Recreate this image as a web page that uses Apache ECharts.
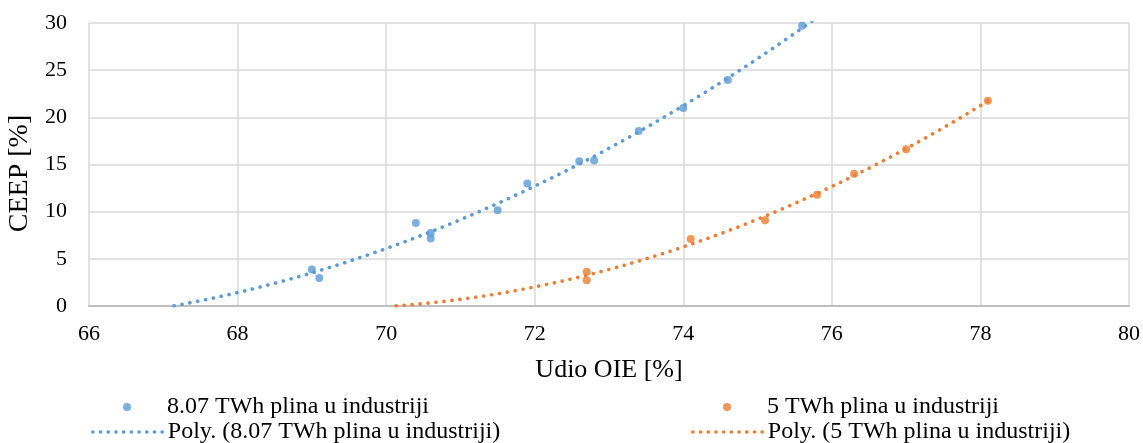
<!DOCTYPE html>
<html>
<head>
<meta charset="utf-8">
<script src="https://cdn.jsdelivr.net/npm/echarts@6/dist/echarts.min.js"></script>
<style>
html,body{margin:0;padding:0;background:#fff;}
#chart{width:1143px;height:443px;}
</style>
</head>
<body>
<div id="chart"></div>
<script>
// ---- data ----
const seriesNames = ['8.07 TWh plina u industriji', '5 TWh plina u industriji'];
const trendNames = ['Poly. (8.07 TWh plina u industriji)', 'Poly. (5 TWh plina u industriji)'];
const blueX = [69.0, 69.1, 70.4, 70.6, 70.6, 71.5, 71.9, 72.6, 72.8, 73.4, 74.0, 74.6, 75.6];
const blueY = [3.87, 2.98, 8.81, 7.75, 7.16, 10.15, 12.98, 15.34, 15.42, 18.55, 21.0, 23.97, 29.72];
const orangeX = [72.7, 72.7, 74.1, 75.1, 75.8, 76.3, 77.0, 78.1];
const orangeY = [3.62, 2.74, 7.09, 9.08, 11.8, 14.03, 16.62, 21.77];
const xTicks = [66, 68, 70, 72, 74, 76, 78, 80];
const yTicks = [0, 5, 10, 15, 20, 25, 30];
const xTitle = 'Udio OIE [%]';
const yTitle = 'CEEP [%]';

const BLUE = '#5B9BD5', ORANGE = '#ED7D31';
const FONT = '"Liberation Serif", "Times New Roman", serif';

// least-squares quadratic fit (Excel polynomial trendline, order 2)
function quadFit(xs, ys) {
  let S = [0,0,0,0,0], T = [0,0,0];
  for (let i = 0; i < xs.length; i++) {
    const x = xs[i], y = ys[i];
    let p = 1;
    for (let k = 0; k < 5; k++) { S[k] += p; if (k < 3) T[k] += p * y; p *= x; }
  }
  const A = [[S[0],S[1],S[2],T[0]],[S[1],S[2],S[3],T[1]],[S[2],S[3],S[4],T[2]]];
  for (let c = 0; c < 3; c++) {
    let piv = c;
    for (let r = c+1; r < 3; r++) if (Math.abs(A[r][c]) > Math.abs(A[piv][c])) piv = r;
    [A[c], A[piv]] = [A[piv], A[c]];
    for (let r = 0; r < 3; r++) {
      if (r === c) continue;
      const f = A[r][c] / A[c][c];
      for (let k = c; k < 4; k++) A[r][k] -= f * A[c][k];
    }
  }
  return [A[0][3]/A[0][0], A[1][3]/A[1][1], A[2][3]/A[2][2]]; // c0, c1, c2
}
function trendPoints(xs, ys, xEnd) {
  const [c0, c1, c2] = quadFit(xs, ys);
  const vx = c2 > 0 ? -c1 / (2*c2) : -Infinity;
  const pts = [];
  const xStart = Math.max(xTicks[0], vx);
  const n = 400;
  for (let i = 0; i <= n; i++) {
    const x = xStart + (xEnd - xStart) * i / n;
    const y = c0 + c1*x + c2*x*x;
    if (y < 0 && pts.length === 0) continue;
    pts.push([x, y]);
  }
  return pts;
}
const zip = (a, b) => a.map((v, i) => [v, b[i]]);

const chart = echarts.init(document.getElementById('chart'), null, {renderer: 'canvas'});
const dotted = (color) => ({color: color, width: 3.6, type: [0.1, 7.9], cap: 'round'});
const legendBase = {padding: 0, itemGap: 0, textStyle: {fontFamily: FONT, fontSize: 24, color: '#000', lineHeight: 24}, itemWidth: 70, itemHeight: 8};
const lineLegend = (color) => ({itemStyle: {opacity: 0}, lineStyle: {color: color, width: 3.6, type: [0.1, 7.6], cap: 'round', opacity: 1}});

chart.setOption({
  animation: false,
  backgroundColor: '#fff',
  grid: {left: 89, right: 14, top: 23, bottom: 137, containLabel: false, outerBoundsMode: 'none'},
  xAxis: {
    type: 'value', min: xTicks[0], max: xTicks[xTicks.length-1], interval: 2,
    name: xTitle, nameLocation: 'middle', nameGap: 51,
    nameTextStyle: {fontFamily: FONT, fontSize: 26, color: '#000'},
    axisLine: {show: true, lineStyle: {color: '#bfbfbf', width: 2}},
    axisTick: {show: false},
    axisLabel: {fontFamily: FONT, fontSize: 22, color: '#000', margin: 17},
    splitLine: {show: true, lineStyle: {color: '#d9d9d9', width: 1.5}}
  },
  yAxis: {
    type: 'value', min: yTicks[0], max: yTicks[yTicks.length-1], interval: 5,
    name: yTitle, nameLocation: 'middle', nameGap: 49, nameRotate: 90,
    nameTextStyle: {fontFamily: FONT, fontSize: 28, color: '#000', padding: [0, 18, 0, 0]},
    axisLine: {show: false},
    axisTick: {show: false},
    axisLabel: {fontFamily: FONT, fontSize: 22, color: '#000', margin: 22},
    splitLine: {show: true, lineStyle: {color: '#d9d9d9', width: 1.5}}
  },
  legend: [
    Object.assign({}, legendBase, {data: [seriesNames[0]], left: 123, top: 395}),
    Object.assign({}, legendBase, lineLegend(BLUE), {data: [trendNames[0]], left: 91, top: 420}),
    Object.assign({}, legendBase, {data: [seriesNames[1]], left: 723, top: 395}),
    Object.assign({}, legendBase, lineLegend(ORANGE), {data: [trendNames[1]], left: 691, top: 420})
  ],
  series: [
    {name: seriesNames[0], type: 'scatter', data: zip(blueX, blueY), symbol: 'circle', symbolSize: 8,
     itemStyle: {color: BLUE}, z: 3},
    {name: seriesNames[1], type: 'scatter', data: zip(orangeX, orangeY), symbol: 'circle', symbolSize: 8,
     itemStyle: {color: ORANGE}, z: 3},
    {name: trendNames[0], type: 'line', data: trendPoints(blueX, blueY, 75.75), showSymbol: false, symbol: 'none',
     lineStyle: dotted(BLUE), itemStyle: {color: BLUE}, clip: true, z: 2, silent: true},
    {name: trendNames[1], type: 'line', data: trendPoints(orangeX, orangeY, orangeX[orangeX.length-1]), showSymbol: false, symbol: 'none',
     lineStyle: dotted(ORANGE), itemStyle: {color: ORANGE}, clip: true, z: 2, silent: true}
  ]
});
</script>
</body>
</html>
